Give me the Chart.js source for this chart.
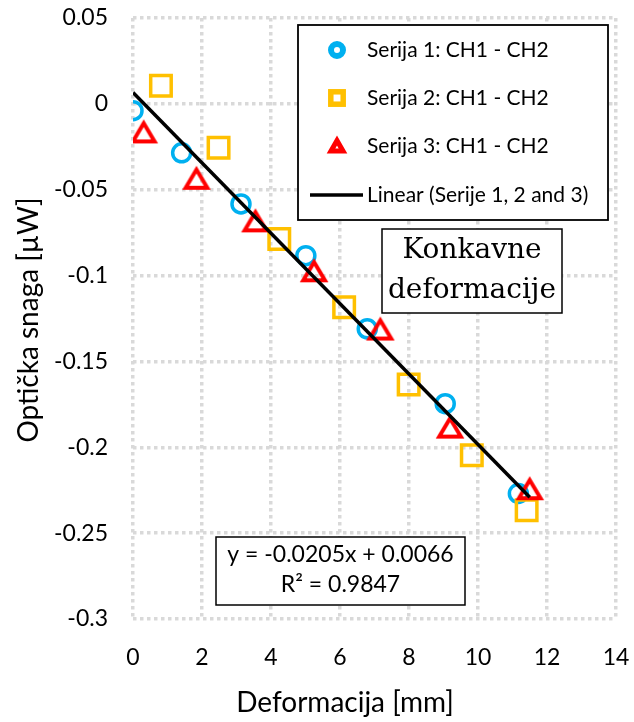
<!DOCTYPE html>
<html>
<head>
<meta charset="utf-8">
<script src="https://cdn.jsdelivr.net/npm/chart.js@4.4.4/dist/chart.umd.min.js"></script>
<style>
  html, body { margin: 0; padding: 0; background: #fff; }
  #wrap { width: 634px; height: 722px; position: relative; }
</style>
</head>
<body>
<div id="wrap"><canvas id="chart"></canvas></div>
<script>
// measured series: deformation [mm] vs optical power [µW]
const serija1X = [0, 1.41, 3.13, 5.01, 6.79, 9.05, 11.17];
const serija1Y = [-0.004, -0.0285, -0.0583, -0.0884, -0.131, -0.1746, -0.2269];
const serija2X = [0.81, 2.48, 4.24, 6.12, 7.99, 9.82, 11.41];
const serija2Y = [0.0105, -0.0256, -0.0787, -0.1184, -0.1635, -0.2047, -0.2366];
const serija3X = [0.31, 1.84, 3.55, 5.25, 7.17, 9.19, 11.5];
const serija3Y = [-0.0172, -0.0442, -0.069, -0.0981, -0.132, -0.1891, -0.225];

const seriesLabels = ["Serija 1: CH1 - CH2", "Serija 2: CH1 - CH2", "Serija 3: CH1 - CH2"];
const trendLabel = "Linear (Serije 1, 2 and 3)";

// linear fit over all three series
const trendSlope = -0.0205;
const trendIntercept = 0.0066;
const trendR2 = 0.9847;

const xTicks = [0, 2, 4, 6, 8, 10, 12, 14];
const yTicks = [0.05, 0, -0.05, -0.1, -0.15, -0.2, -0.25, -0.3];

const BLUE = "#00b0f0";
const ORANGE = "#ffc000";
const RED = "#ff0000";
const FONT = "Lato";

const zip = (xs, ys) => xs.map((x, i) => ({ x, y: ys[i] }));

const allX = serija1X.concat(serija2X, serija3X);
const xEnd = Math.max(...allX);
const trendPoints = [0, xEnd].map((x) => ({ x, y: trendSlope * x + trendIntercept }));

// open triangle marker, centred on its bounding box
function triangleMarker(size, color, lw) {
  const c = document.createElement("canvas");
  c.width = size;
  c.height = size;
  const g = c.getContext("2d");
  const h = size / 2;
  const r = size * 0.34;
  g.strokeStyle = color;
  g.lineWidth = lw;
  g.lineJoin = "miter";
  g.beginPath();
  g.moveTo(h, h - r);
  g.lineTo(h - r * 1.06, h + r * 0.78);
  g.lineTo(h + r * 1.06, h + r * 0.78);
  g.closePath();
  g.stroke();
  return c;
}

const triMarker = triangleMarker(30, RED, 4);

function drawLegendMarker(ctx, kind, x, y) {
  ctx.save();
  ctx.lineJoin = "miter";
  if (kind === "circle") {
    ctx.strokeStyle = BLUE;
    ctx.lineWidth = 6;
    ctx.beginPath();
    ctx.arc(x, y, 6, 0, Math.PI * 2);
    ctx.stroke();
  } else if (kind === "rect") {
    ctx.strokeStyle = ORANGE;
    ctx.lineWidth = 5.5;
    ctx.strokeRect(x - 6.2, y - 6.2, 12.4, 12.4);
  } else if (kind === "tri") {
    ctx.strokeStyle = RED;
    ctx.lineWidth = 5;
    ctx.beginPath();
    ctx.moveTo(x, y - 5.5);
    ctx.lineTo(x - 6, y + 5);
    ctx.lineTo(x + 6, y + 5);
    ctx.closePath();
    ctx.stroke();
  } else {
    ctx.strokeStyle = "#000";
    ctx.lineWidth = 3.5;
    ctx.beginPath();
    ctx.moveTo(x - 27, y);
    ctx.lineTo(x + 26, y);
    ctx.stroke();
  }
  ctx.restore();
}

function textBox(ctx, left, top, right, bottom, lines, font, lineYs) {
  ctx.save();
  ctx.fillStyle = "#fff";
  ctx.fillRect(left, top, right - left, bottom - top);
  ctx.strokeStyle = "#000";
  ctx.lineWidth = 1.5;
  ctx.strokeRect(left, top, right - left, bottom - top);
  ctx.fillStyle = "#000";
  ctx.font = font;
  ctx.textAlign = "center";
  ctx.textBaseline = "middle";
  lines.forEach((t, i) => ctx.fillText(t, (left + right) / 2, lineYs[i]));
  ctx.restore();
}

const annotations = {
  id: "annotations",
  afterDatasetsDraw(chart) {
    const ctx = chart.ctx;

    // legend
    ctx.save();
    ctx.fillStyle = "#fff";
    ctx.fillRect(298, 25, 310, 195);
    ctx.strokeStyle = "#000";
    ctx.lineWidth = 1.8;
    ctx.strokeRect(298, 25, 310, 195);
    const kinds = ["circle", "rect", "tri", "line"];
    const rowYs = [50, 98, 146, 195];
    const labels = seriesLabels.concat([trendLabel]);
    ctx.font = "21px " + FONT;
    ctx.fillStyle = "#000";
    ctx.textBaseline = "middle";
    labels.forEach((t, i) => {
      drawLegendMarker(ctx, kinds[i], 337, rowYs[i]);
      ctx.fillText(t, 367, rowYs[i]);
    });
    ctx.restore();

    textBox(ctx, 382, 229, 562, 313, ["Konkavne", "deformacije"],
      "28px 'DejaVu Serif'", [251, 291]);

    textBox(ctx, 216, 537, 465, 605,
      ["y = " + trendSlope + "x + " + trendIntercept, "R² = " + trendR2],
      "23px " + FONT, [555, 585]);

    // axis titles
    ctx.save();
    ctx.fillStyle = "#000";
    ctx.font = "28px " + FONT;
    ctx.textAlign = "center";
    ctx.textBaseline = "middle";
    ctx.fillText("Deformacija [mm]", 345, 703);
    ctx.translate(29, 320);
    ctx.rotate(-Math.PI / 2);
    ctx.fillText("Optička snaga [µW]", 0, 0);
    ctx.restore();
  },
};

const gridStyle = { color: "#d9d9d9", lineWidth: 3.5, drawTicks: false };

new Chart(document.getElementById("chart"), {
  type: "scatter",
  data: {
    datasets: [
      {
        label: seriesLabels[0],
        data: zip(serija1X, serija1Y),
        pointStyle: "circle",
        pointRadius: 9,
        pointBorderWidth: 3.5,
        borderColor: BLUE,
        backgroundColor: "rgba(0,0,0,0)",
        order: 3,
      },
      {
        label: seriesLabels[1],
        data: zip(serija2X, serija2Y),
        pointStyle: "rect",
        pointRadius: 14.5,
        pointBorderWidth: 3.5,
        borderColor: ORANGE,
        backgroundColor: "rgba(0,0,0,0)",
        order: 2,
      },
      {
        label: seriesLabels[2],
        data: zip(serija3X, serija3Y),
        pointStyle: triMarker,
        pointRadius: 15,
        borderColor: RED,
        backgroundColor: "rgba(0,0,0,0)",
        order: 1,
      },
      {
        label: trendLabel,
        type: "line",
        data: trendPoints,
        borderColor: "#000",
        borderWidth: 3.5,
        pointRadius: 0,
        fill: false,
        order: 0,
      },
    ],
  },
  options: {
    responsive: true,
    maintainAspectRatio: false,
    animation: false,
    events: [],
    layout: { padding: { top: 17, right: 16, left: 0, bottom: 0 } },
    plugins: { legend: { display: false }, tooltip: { enabled: false } },
    scales: {
      x: {
        type: "linear",
        min: 0,
        max: 14,
        afterFit: (s) => { s.height = 103; s.paddingLeft = 0; s.paddingRight = 0; },
        afterBuildTicks: (s) => { s.ticks = xTicks.map((v) => ({ value: v })); },
        grid: gridStyle,
        border: { display: false, dash: [3.5, 3.5] },
        ticks: { color: "#000", font: { family: FONT, size: 23 }, padding: 25, callback: (v) => String(v) },
      },
      y: {
        type: "linear",
        min: -0.3,
        max: 0.05,
        afterFit: (s) => { s.width = 133; s.paddingTop = 0; s.paddingBottom = 0; },
        afterBuildTicks: (s) => { s.ticks = yTicks.map((v) => ({ value: v })); },
        grid: gridStyle,
        border: { display: false, dash: [3.5, 3.5] },
        ticks: { color: "#000", font: { family: FONT, size: 23 }, padding: 25, callback: (v) => String(+v.toFixed(2)) },
      },
    },
  },
  plugins: [annotations],
});
</script>
</body>
</html>
